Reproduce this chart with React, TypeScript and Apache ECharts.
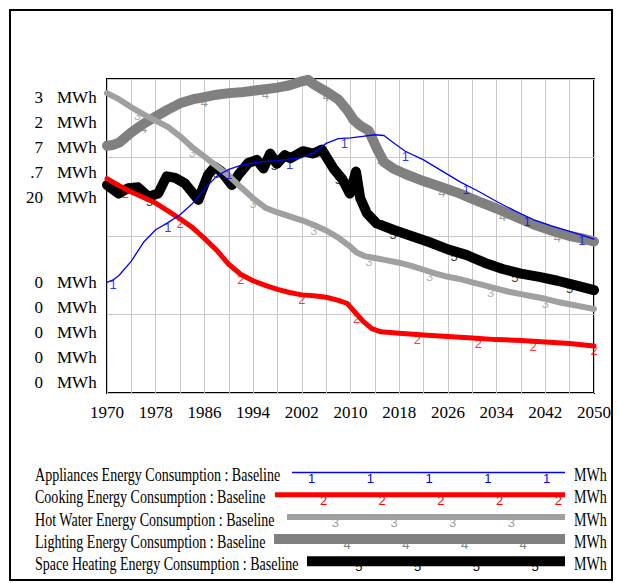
import React, { useEffect, useRef } from "react";
import * as echarts from "echarts";

const START_YEAR = 1970;
const END_YEAR = 2050;

const seriesNames = [
  "Appliances Energy Consumption : Baseline",
  "Cooking Energy Consumption : Baseline",
  "Hot Water Energy Consumption : Baseline",
  "Lighting Energy Consumption : Baseline",
  "Space Heating Energy Consumption : Baseline",
];
const seriesDigits = ["1", "2", "3", "4", "5"];
const unitLabel = "MWh";

// values in chart grid units (0..4), per-series scales as in the original
const appliances: [number, number][] = [
  [1970, 1.41], [1971, 1.44], [1972, 1.5], [1974, 1.68], [1976, 1.92], [1978, 2.08],
  [1980, 2.17], [1982, 2.27], [1984, 2.41], [1986, 2.6], [1988, 2.76], [1990, 2.85],
  [1992, 2.9], [1994, 2.93], [1996, 2.95], [1998, 2.96], [2000, 2.98], [2002, 3.0],
  [2004, 3.06], [2006, 3.18], [2008, 3.24], [2010, 3.25], [2012, 3.27], [2014, 3.29],
  [2015.5, 3.28], [2017, 3.19], [2019, 3.08], [2022, 2.97], [2025, 2.83], [2028, 2.69],
  [2031, 2.57], [2034, 2.44], [2037, 2.32], [2040, 2.21], [2043, 2.13], [2046, 2.06],
  [2048, 2.01], [2050, 1.96],
];
const cooking: [number, number][] = [
  [1970, 2.73], [1972, 2.64], [1974, 2.56], [1976, 2.49], [1978, 2.42], [1980, 2.32],
  [1982, 2.22], [1984, 2.11], [1986, 1.97], [1988, 1.82], [1990, 1.64], [1992, 1.51],
  [1994, 1.43], [1996, 1.37], [1998, 1.32], [2000, 1.28], [2002, 1.25], [2004, 1.24],
  [2006, 1.22], [2008, 1.18], [2009.5, 1.14], [2010.5, 1.05], [2012, 0.92], [2013.5, 0.82],
  [2015, 0.78], [2018, 0.76], [2022, 0.74], [2026, 0.72], [2030, 0.7], [2034, 0.68],
  [2038, 0.67], [2042, 0.65], [2046, 0.63], [2050, 0.6],
];
const hotWater: [number, number][] = [
  [1970, 3.82], [1972, 3.74], [1974, 3.64], [1976, 3.55], [1978, 3.47], [1980, 3.39],
  [1982, 3.27], [1984, 3.13], [1986, 3.01], [1988, 2.89], [1990, 2.77], [1992, 2.62],
  [1994, 2.48], [1996, 2.36], [1998, 2.3], [2000, 2.25], [2002, 2.2], [2004, 2.14],
  [2006, 2.07], [2008, 1.98], [2010, 1.86], [2011, 1.79], [2012.5, 1.74], [2014, 1.72],
  [2016, 1.69], [2018, 1.66], [2020, 1.62], [2022, 1.57], [2024, 1.52], [2026, 1.48],
  [2028, 1.45], [2030, 1.41], [2032, 1.37], [2034, 1.33], [2036, 1.29], [2038, 1.26],
  [2040, 1.23], [2042, 1.2], [2044, 1.16], [2046, 1.13], [2048, 1.1], [2050, 1.07],
];
const lighting: [number, number][] = [
  [1970, 3.15], [1971, 3.16], [1972, 3.19], [1974, 3.32], [1976, 3.43], [1978, 3.52],
  [1980, 3.61], [1982, 3.69], [1984, 3.74], [1986, 3.77], [1988, 3.8], [1990, 3.82],
  [1992, 3.83], [1994, 3.85], [1996, 3.87], [1998, 3.89], [2000, 3.92], [2002, 3.97],
  [2003, 3.99], [2004, 3.93], [2006, 3.84], [2008, 3.74], [2009.5, 3.6], [2010.5, 3.48],
  [2011.5, 3.41], [2013, 3.34], [2014.3, 3.12], [2015.5, 2.94], [2017, 2.86], [2019, 2.79],
  [2022, 2.7], [2025, 2.62], [2028, 2.54], [2031, 2.44], [2034, 2.35], [2037, 2.25],
  [2040, 2.15], [2043, 2.07], [2046, 2.0], [2048, 1.97], [2050, 1.93],
];
const spaceHeating: [number, number][] = [
  [1970, 2.65], [1971.9, 2.54], [1973.5, 2.61], [1975.1, 2.62], [1976.8, 2.5], [1978.4, 2.54],
  [1979.8, 2.76], [1981.2, 2.74], [1982.8, 2.67], [1985, 2.46], [1986.6, 2.78], [1987.7, 2.88],
  [1988.8, 2.82], [1990.5, 2.65], [1991.6, 2.78], [1993.2, 2.93], [1994.6, 2.97], [1995.7, 2.86],
  [1996.8, 3.05], [1997.9, 2.92], [1999.2, 3.03], [2000.1, 2.99], [2002.2, 3.08], [2003.9, 3.05],
  [2005.3, 3.1], [2007.2, 2.86], [2008.6, 2.73], [2009.9, 2.54], [2010.9, 2.82], [2011.6, 2.48],
  [2012.7, 2.29], [2014.3, 2.16], [2017, 2.08], [2020, 2.0], [2023, 1.92], [2026, 1.83],
  [2029, 1.76], [2032, 1.66], [2035, 1.58], [2038, 1.52], [2041, 1.48], [2044, 1.43],
  [2047, 1.37], [2050, 1.31],
];

// years at which the series number markers sit
const appliancesMarkers = [1971, 1980, 1990, 2000, 2009, 2019, 2029, 2039, 2048];
const cookingMarkers = [1973, 1982, 1992, 2002, 2011, 2021, 2031, 2040, 2050];
const hotWaterMarkers = [1975, 1984, 1994, 2004, 2013, 2023, 2033, 2042];
const lightingMarkers = [1976, 1986, 1996, 2006, 2015, 2025, 2035, 2044];
const spaceHeatingMarkers = [1977, 1988, 1997.5, 2008, 2017, 2027, 2037, 2046];

// truncated y tick labels (top value stack, bottom value stack)
const yTopLabels = ["3", "2", "7", ".7", "20"];
const yBottomLabels = ["0", "0", "0", "0", "0"];

const seriesData = [appliances, cooking, hotWater, lighting, spaceHeating];
const markerYears = [appliancesMarkers, cookingMarkers, hotWaterMarkers, lightingMarkers, spaceHeatingMarkers];
const colors = ["#0000ff", "#ff0000", "#a0a0a0", "#808080", "#000000"];
const widths = [1.3, 5, 6, 10, 10];
const ranks = [4, 3, 2, 1, 0]; // drawing order: space heating bottom, appliances top

function valueAt(pairs: [number, number][], yr: number): number {
  for (let i = 0; i < pairs.length - 1; i++) {
    const [x0, y0] = pairs[i];
    const [x1, y1] = pairs[i + 1];
    if (yr >= x0 && yr <= x1) return y0 + ((yr - x0) / (x1 - x0)) * (y1 - y0);
  }
  return pairs[pairs.length - 1][1];
}

const SERIF = "'Liberation Serif', 'Times New Roman', serif";
const SANS = "'Liberation Sans', Arial, sans-serif";

export default function App() {
  const ref = useRef<HTMLDivElement>(null);
  useEffect(() => {
    if (!ref.current) return;
    const chart = echarts.init(ref.current, null, { renderer: "svg" });

    const series: any[] = [];
    seriesData.forEach((pairs, i) => {
      series.push({
        type: "line",
        name: seriesNames[i],
        data: pairs.map(([y, v]) => [y - START_YEAR, v]),
        showSymbol: false,
        symbol: "none",
        smooth: false,
        z: 10 + 2 * ranks[i],
        lineStyle: { color: colors[i], width: widths[i], cap: "round", join: "round" },
        itemStyle: { color: colors[i] },
      });
      series.push({
        type: "scatter",
        name: seriesNames[i] + " markers",
        data: markerYears[i].map((yr) => [yr - START_YEAR, valueAt(pairs, yr)]),
        symbol: "circle",
        symbolSize: 1,
        z: 9 + 2 * ranks[i],
        itemStyle: { color: "rgba(0,0,0,0)" },
        label: {
          show: true,
          position: "bottom",
          distance: -2,
          formatter: seriesDigits[i],
          color: colors[i],
          fontSize: 13,
          fontFamily: SANS,
        },
      });
    });

    const graphics: any[] = [];
    // outer frame
    graphics.push({
      type: "rect",
      shape: { x: 10, y: 10, width: 602, height: 570 },
      style: { fill: "none", stroke: "#000", lineWidth: 2 },
      silent: true,
    });
    // y labels
    yTopLabels.forEach((t, i) => {
      const y = 97 + 25 * i;
      graphics.push({ type: "text", x: 43, y, style: { text: t, font: `17px ${SERIF}`, fill: "#000", textAlign: "right", textVerticalAlign: "middle" } });
      graphics.push({ type: "text", x: 57, y, style: { text: unitLabel, font: `17px ${SERIF}`, fill: "#000", textAlign: "left", textVerticalAlign: "middle" } });
    });
    yBottomLabels.forEach((t, i) => {
      const y = 282 + 25.2 * i;
      graphics.push({ type: "text", x: 43, y, style: { text: t, font: `17px ${SERIF}`, fill: "#000", textAlign: "right", textVerticalAlign: "middle" } });
      graphics.push({ type: "text", x: 57, y, style: { text: unitLabel, font: `17px ${SERIF}`, fill: "#000", textAlign: "left", textVerticalAlign: "middle" } });
    });
    // legend
    const legendLineStart = [292, 275, 287, 274, 307];
    const legendLineEnd = 565;
    seriesNames.forEach((name, i) => {
      const rowY = 475 + 22.2 * i;
      const lineY = rowY - 2.5;
      graphics.push({
        type: "text", x: 35, y: rowY, scaleX: 0.78,
        style: { text: name, font: `18px ${SERIF}`, fill: "#000", textAlign: "left", textVerticalAlign: "middle" },
      });
      graphics.push({
        type: "text", x: 574, y: rowY, scaleX: 0.78,
        style: { text: unitLabel, font: `18px ${SERIF}`, fill: "#000", textAlign: "left", textVerticalAlign: "middle" },
      });
      for (let p = 311.7 + 11.8 * i; p <= 562; p += 58.7) {
        if (p < legendLineStart[i]) continue;
        graphics.push({
          type: "text", x: p, y: lineY - 1, z: 1,
          style: { text: seriesDigits[i], font: `13px ${SANS}`, fill: colors[i], textAlign: "center", textVerticalAlign: "top" },
        });
      }
      graphics.push({
        type: "line", z: 2,
        shape: { x1: legendLineStart[i], y1: lineY, x2: legendLineEnd, y2: lineY },
        style: { stroke: colors[i], lineWidth: widths[i] },
      });
    });

    chart.setOption({
      animation: false,
      backgroundColor: "#fff",
      grid: {
        left: 107, top: 79, width: 487, height: 314,
        show: true, borderColor: "#000", borderWidth: 2, backgroundColor: "transparent",
        containLabel: false,
      },
      xAxis: {
        type: "value",
        min: 0,
        max: END_YEAR - START_YEAR,
        interval: 4,
        axisLine: { show: false },
        axisTick: { show: false },
        splitLine: { show: true, lineStyle: { color: "#c8c8c8", width: 1 } },
        axisLabel: {
          margin: 11,
          color: "#000",
          fontSize: 17,
          fontFamily: SERIF,
          formatter: (v: number) => (v % 8 === 0 ? String(START_YEAR + v) : ""),
          showMinLabel: true,
          showMaxLabel: true,
        },
      },
      yAxis: {
        type: "value",
        min: 0,
        max: 4,
        interval: 1,
        axisLine: { show: false },
        axisTick: { show: false },
        axisLabel: { show: false },
        splitLine: { show: true, lineStyle: { color: "#c8c8c8", width: 1 } },
      },
      series,
      graphic: graphics,
    });
    return () => chart.dispose();
  }, []);
  return (
    <div
      ref={ref}
      style={{ position: "absolute", left: 0, top: 0, width: 619, height: 583, background: "#fff" }}
    />
  );
}
